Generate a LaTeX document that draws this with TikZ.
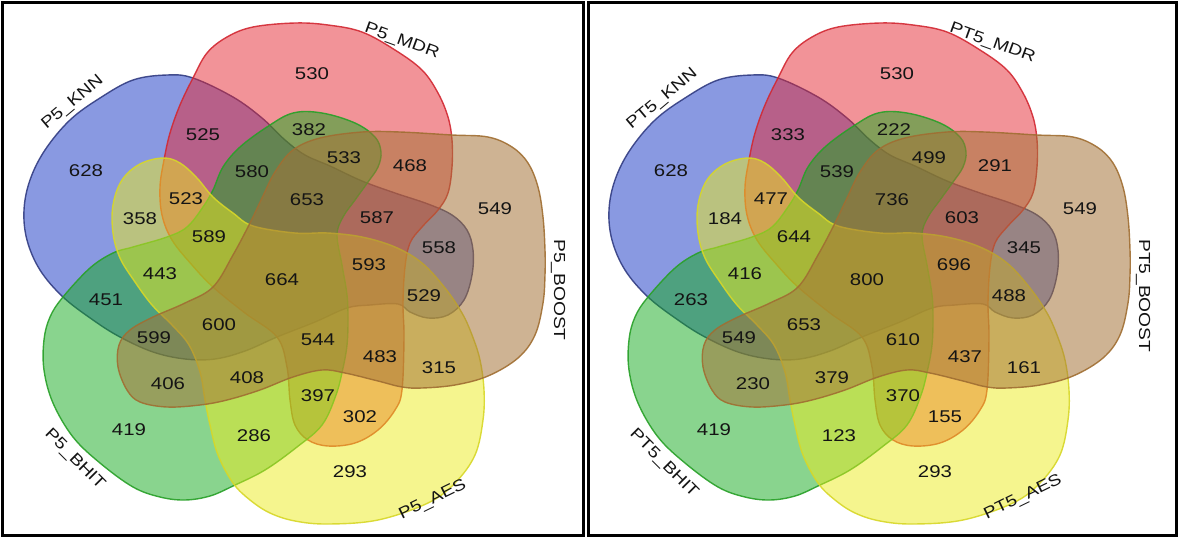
\documentclass[tikz,border=0pt]{standalone}
\usepackage{fontspec}
\newfontfamily\vennsf[FakeStretch=1.2]{Liberation Sans}
\definecolor{KnnFill}{RGB}{40,70,200}
\definecolor{KnnLine}{RGB}{50,60,130}
\definecolor{MdrFill}{RGB}{230,40,50}
\definecolor{MdrLine}{RGB}{210,40,50}
\definecolor{BoostFill}{RGB}{165,115,55}
\definecolor{BoostLine}{RGB}{160,110,50}
\definecolor{AesFill}{RGB}{235,235,30}
\definecolor{AesLine}{RGB}{215,215,40}
\definecolor{BhitFill}{RGB}{20,170,30}
\definecolor{BhitLine}{RGB}{40,160,40}
\definecolor{TextGray}{RGB}{20,20,20}

\begin{document}
\begin{tikzpicture}[x=1pt, y=-1pt,
	blob/.style={fill opacity=.54, draw opacity=.9, line width=1.4pt},
	count/.style={text=TextGray, font=\vennsf\fontsize{17pt}{17pt}\selectfont, inner sep=0pt},
	setlabel/.style={text=TextGray, font=\vennsf\fontsize{16pt}{16pt}\selectfont, inner sep=0pt, anchor=west}]
	\useasboundingbox (0,0) rectangle (1181,539);
	
	% the two panels: same five sets, shifted
	\foreach \px/\pre in {0/P5, 585/PT5}{
		\begin{scope}[shift={(\px,0)}]
			% KNN (blue)
			\path[blob, fill=KnnFill, fill opacity=.55, draw=KnnLine] plot[smooth cycle, tension=.6] coordinates {
				(167,75) (193,78) (233,97) (262,118) (285,140) (305,155) (330,166) (362,181)
				(395,193) (428,204) (452,215) (467,230) (473,250) (472,275) (464,300) (448,315)
				(428,318) (410,312) (398,304) (370,305) (347,308) (315,322) (277,337) (245,351)
				(215,359) (185,359) (153,352) (120,337) (93,320) (63,297) (40,270) (27,240)
				(24,210) (30,180) (45,150) (70,120) (100,98) (133,80)};
			% MDR (red)
			\path[blob, fill=MdrFill, fill opacity=.5, draw=MdrLine] plot[smooth cycle, tension=.6] coordinates {
				(295,23) (328,25) (362,32) (395,50) (422,70) (438,93) (448,117) (452,140)
				(452,167) (448,193) (438,210) (422,227) (410,243) (405,267) (403,303) (404,337)
				(402,390) (395,410) (378,430) (355,443) (328,446) (308,440) (295,425) (290,400)
				(287,367) (277,337) (245,313) (213,287) (192,265) (172,240) (162,215) (160,187)
				(164,160) (170,133) (180,105) (193,78) (207,53) (227,37) (253,27)};
			% BHIT (green)
			\path[blob, fill=BhitFill, fill opacity=.5, draw=BhitLine] plot[smooth cycle, tension=.6] coordinates {
				(293,113) (322,113) (355,123) (375,137) (381,152) (378,167) (368,182) (355,200)
				(343,217) (337,235) (342,265) (347,295) (348,320) (347,345) (343,368) (336,395)
				(322,425) (297,447) (265,470) (233,486) (210,496) (185,500) (160,497) (133,487)
				(100,463) (73,437) (53,403) (44,370) (44,340) (50,317) (63,297) (90,268)
				(113,253) (133,247) (167,237) (187,227) (203,207) (213,190) (223,167) (240,147)
				(267,127)};
			% AES (yellow)
			\path[blob, fill=AesFill, fill opacity=.5, draw=AesLine] plot[smooth cycle, tension=.6] coordinates {
				(163,158) (180,163) (197,178) (213,197) (233,213) (253,226) (295,233) (328,233)
				(362,237) (395,247) (422,263) (445,288) (462,313) (472,335) (480,360) (484,390)
				(483,420) (475,455) (455,483) (428,503) (378,520) (328,524) (295,521) (270,513)
				(250,500) (233,483) (218,455) (210,425) (205,400) (200,372) (189,345) (172,325)
				(152,305) (135,282) (120,258) (113,233) (113,205) (122,180) (140,164)};
			% BOOST (tan)
			\path[blob, fill=BoostFill, draw=BoostLine] plot[smooth cycle, tension=.6] coordinates {
				(452,135) (488,137) (512,147) (528,163) (538,187) (543,217) (545,250) (545,275)
				(543,303) (535,335) (518,358) (488,376) (455,385) (422,388) (402,387) (378,381)
				(345,373) (322,370) (293,377) (260,390) (227,400) (200,405) (167,407) (140,402)
				(127,390) (118,367) (119,345) (130,330) (153,317) (185,303) (213,287) (233,255)
				(250,223) (262,198) (275,172) (293,150) (320,138) (362,132) (400,132)};
			
			% set names
			\node[setlabel, rotate=40] (knn\pre) at (44,127) {\pre\_KNN};
			\node[setlabel, rotate=-20] (mdr\pre) at (365,28) {\pre\_MDR};
			\node[setlabel, rotate=-90] (boost\pre) at (558,239) {\pre\_BOOST};
			\node[setlabel, rotate=26] (aes\pre) at (400,516) {\pre\_AES};
			\node[setlabel, rotate=-45] (bhit\pre) at (47,432) {\pre\_BHIT};
		\end{scope}
	}
	
	% region counts: x / y / left panel / right panel
	\foreach \x/\y/\a/\b [count=\i] in {
		86/171/628/628, 203/135/525/333, 252/172/580/539, 186/199/523/477,
		140/219/358/184, 209/237/589/644, 312/74/530/530, 309/130/382/222,
		344/158/533/499, 410/166/468/291, 307/200/653/736, 377/218/587/603,
		495/209/549/549, 439/248/558/345, 160/274/443/416, 282/280/664/800,
		369/265/593/696, 424/296/529/488, 106/300/451/263, 219/325/600/653,
		318/340/544/610, 154/338/599/549, 380/357/483/437, 439/368/315/161,
		168/384/406/230, 247/378/408/379, 318/396/397/370, 360/417/302/155,
		129/430/419/419, 254/436/286/123, 350/472/293/293}{
		\node[count] (l\i) at (\x,\y) {\a};
		\node[count] (r\i) at (\x+585,\y) {\b};
	}
	
	% panel frames
	\draw[line width=3pt] (2,2) rectangle (583.5,535);
	\draw[line width=3pt] (588.5,2) rectangle (1176,535);
\end{tikzpicture}
\end{document}
